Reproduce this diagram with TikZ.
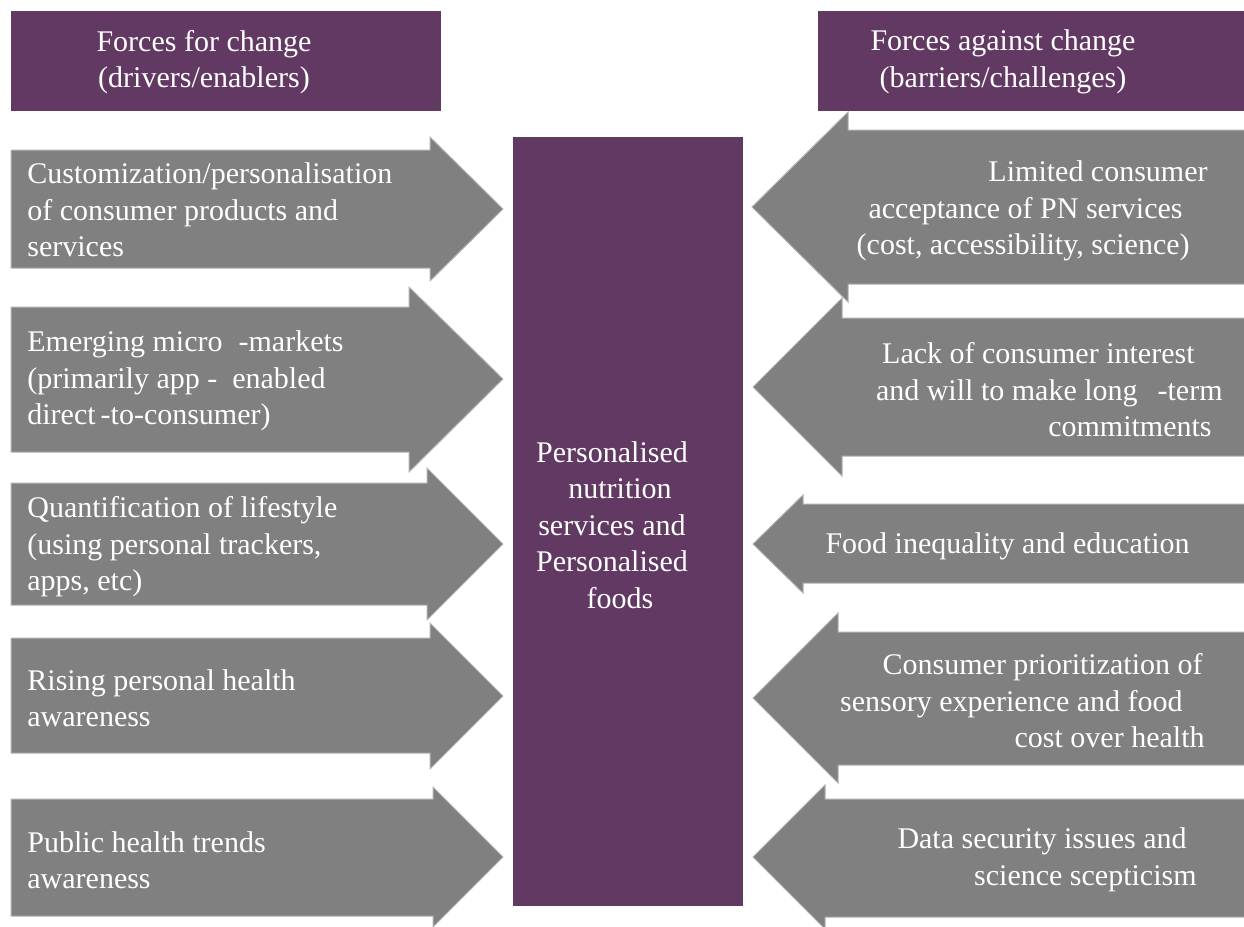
\documentclass[tikz,border=0pt]{standalone}
\usepackage{fontspec}
\setmainfont{Liberation Serif}
\definecolor{plum}{RGB}{98,57,98}
\definecolor{slate}{RGB}{128,128,128}

\begin{document}
\begin{tikzpicture}[x=0.5pt, y=-0.5pt,
    every node/.style={text=white, inner sep=0pt, font=\fontsize{15}{18.25}\selectfont},
    band/.style={fill=plum},
    force/.style={fill=slate, draw=black!30, line width=0.5pt}]
    \clip (0,0) rectangle (1244,927);
    \fill[white] (0,0) rectangle (1244,927);

    % headers and centre block
    \fill[band] (11,11) rectangle (441,111);
    \fill[band] (818,11) rectangle (1250,111);
    \fill[band] (513,137) rectangle (743,906);

    \node[align=center] (pro) at (204,62) {Forces for change\\(drivers/enablers)};
    \node[align=center] (con) at (1003,62) {Forces against change\\(barriers/challenges)};
    \node[align=center] (pn) at (612,525) {Personalised\\\hspace*{8pt}nutrition\null\\services and\\Personalised\\\hspace*{8pt}foods\null};

    % drivers
    \fill[force] (11,150) -- (430,150) -- (430,137) -- (503,209) -- (430,281) -- (430,268) -- (11,268) -- cycle;
    \fill[force] (11,307) -- (409,307) -- (409,287) -- (503,379) -- (409,472) -- (409,452) -- (11,452) -- cycle;
    \fill[force] (11,483) -- (427,483) -- (427,468) -- (503,544) -- (427,620) -- (427,605) -- (11,605) -- cycle;
    \fill[force] (11,638) -- (430,638) -- (430,623) -- (503,696) -- (430,769) -- (430,753) -- (11,753) -- cycle;
    \fill[force] (11,799) -- (433,799) -- (433,787) -- (503,857) -- (433,927) -- (433,916) -- (11,916) -- cycle;

    \node[anchor=west, align=left] (l1) at (27,210) {Customization/personalisation\\of consumer products and\\services};
    \node[anchor=west, align=left] (l2) at (27,381) {Emerging micro\hspace{8pt}-markets\\(primarily app - \ enabled\\direct\,-to-consumer)};
    \node[anchor=west, align=left] (l3) at (27,547) {Quantification of lifestyle\\(using personal trackers,\\apps, etc)};
    \node[anchor=west, align=left] (l4) at (27,698) {Rising personal health\\awareness};
    \node[anchor=west, align=left] (l5) at (27,860) {Public health trends\\awareness};

    % barriers
    \fill[force] (1250,130) -- (848,130) -- (848,112) -- (752,207) -- (848,302) -- (848,284) -- (1250,284) -- cycle;
    \fill[force] (1250,318) -- (842,318) -- (842,298) -- (753,387) -- (842,476) -- (842,456) -- (1250,456) -- cycle;
    \fill[force] (1250,504) -- (803,504) -- (803,495) -- (753,544) -- (803,593) -- (803,583) -- (1250,583) -- cycle;
    \fill[force] (1250,632) -- (838,632) -- (838,613) -- (753,698) -- (838,783) -- (838,765) -- (1250,765) -- cycle;
    \fill[force] (1250,799) -- (825,799) -- (825,785) -- (753,857) -- (825,929) -- (825,917) -- (1250,917) -- cycle;

    \node[anchor=east, align=right] (r1) at (1208,211) {Limited consumer\\acceptance of PN services\hspace*{12.5pt}\null\\(cost, accessibility, science)\hspace*{9pt}\null};
    \node[anchor=east, align=right] (r2) at (1223,390) {Lack of consumer interest\hspace*{14pt}\null\\and will to make long\hspace{10pt}-term\\commitments\hspace*{5.5pt}\null};
    \node[anchor=east] (r3) at (1190,546) {Food inequality and education};
    \node[anchor=east, align=right] (r4) at (1205,701) {Consumer prioritization of\hspace*{1pt}\null\\sensory experience and food\hspace*{11pt}\null\\cost over health};
    \node[anchor=east, align=right] (r5) at (1197,860) {Data security issues and\hspace*{5pt}\null\\science scepticism};
\end{tikzpicture}
\end{document}
